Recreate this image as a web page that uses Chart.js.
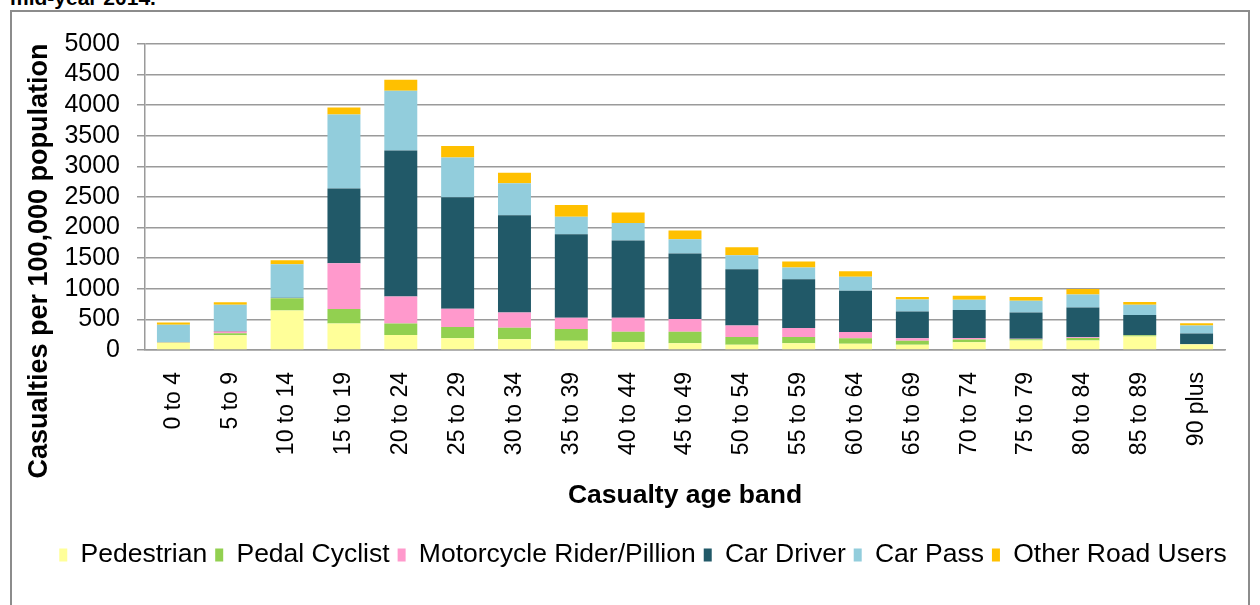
<!DOCTYPE html>
<html>
<head>
<meta charset="utf-8">
<script src="https://cdn.jsdelivr.net/npm/chart.js@4.4.1/dist/chart.umd.min.js"></script>
<style>
  body { margin: 0; background: #fff; width: 1260px; height: 605px; overflow: hidden; position: relative; font-family: "Liberation Sans", Arial, sans-serif; }
  #caption { position: absolute; left: 10px; top: -13px; font-weight: bold; font-size: 21px; line-height: 21px; color: #000; white-space: nowrap; }
  #frame { position: absolute; left: 10px; top: 10px; width: 1236px; height: 600px; border: 2px solid #8c8c8c; border-bottom: none; }
  #box { position: absolute; left: 12px; top: 12px; width: 1236px; height: 593px; }
</style>
</head>
<body>
<div id="caption">mid-year 2014.</div>
<div id="frame"></div>
<div id="box"><canvas id="grafico"></canvas></div>
<script>
// Faixas etárias e valores (vítimas por 100.000 habitantes)
const ageBands = ["0 to 4", "5 to 9", "10 to 14", "15 to 19", "20 to 24", "25 to 29", "30 to 34",
    "35 to 39", "40 to 44", "45 to 49", "50 to 54", "55 to 59", "60 to 64", "65 to 69",
    "70 to 74", "75 to 79", "80 to 84", "85 to 89", "90 plus"];
const pedestrian = [120, 240, 645, 435, 245, 190, 174, 152, 130, 109, 87, 109, 103, 87, 128, 155, 155, 220, 90];
const pedalCyclist = [3, 32, 200, 233, 190, 185, 190, 190, 169, 190, 125, 103, 87, 65, 42, 22, 43, 20, 5];
const motorcycle = [2, 32, 3, 750, 440, 299, 250, 185, 228, 206, 190, 147, 103, 38, 27, 8, 10, 5, 5];
const carDriver = [5, 5, 5, 1222, 2385, 1821, 1587, 1364, 1261, 1071, 919, 799, 674, 440, 455, 429, 488, 326, 171];
const carPass = [283, 430, 547, 1207, 978, 652, 522, 288, 288, 234, 228, 190, 229, 196, 169, 190, 212, 168, 128];
const otherRoadUsers = [38, 43, 65, 114, 179, 185, 174, 191, 169, 141, 130, 98, 92, 38, 65, 60, 87, 44, 37];

const fonte = '"Liberation Sans", Arial, sans-serif';
const corGrade = '#9a9a9a';

// título do eixo y desenhado à mão para ficar na mesma posição do original
const tituloY = {
    id: 'tituloY',
    afterDraw(chart) {
        const ctx = chart.ctx;
        ctx.save();
        ctx.translate(28, 249);
        ctx.rotate(-Math.PI / 2);
        ctx.font = 'bold 27px ' + fonte;
        ctx.fillStyle = '#000';
        ctx.textAlign = 'center';
        ctx.textBaseline = 'middle';
        ctx.fillText('Casualties per 100,000 population', 0, 0);
        ctx.restore();
    }
};

function serie(label, data, cor) {
    return { label: label, data: data, backgroundColor: cor, borderWidth: 0,
        categoryPercentage: 1, barPercentage: 0.58 };
}

const ctx = document.getElementById('grafico').getContext('2d');
new Chart(ctx, {
    type: 'bar',
    data: {
        labels: ageBands,
        datasets: [
            serie('Pedestrian', pedestrian, '#ffff99'),
            serie('Pedal Cyclist', pedalCyclist, '#92d050'),
            serie('Motorcycle Rider/Pillion', motorcycle, '#ff99cc'),
            serie('Car Driver', carDriver, '#215968'),
            serie('Car Pass', carPass, '#92cddc'),
            serie('Other Road Users', otherRoadUsers, '#ffc000')
        ]
    },
    options: {
        responsive: true,
        maintainAspectRatio: false,
        animation: false,
        layout: { padding: { top: 30, right: 0, left: 26, bottom: 26.75 } },
        plugins: {
            legend: {
                position: 'bottom',
                labels: {
                    color: '#000',
                    font: { family: fonte, size: 26.5 },
                    boxWidth: 8,
                    boxHeight: 13,
                    padding: 8
                }
            },
            tooltip: { enabled: false }
        },
        scales: {
            x: {
                stacked: true,
                grid: { display: false, drawTicks: false },
                border: { display: true, color: corGrade, width: 1.5 },
                ticks: {
                    color: '#000',
                    font: { family: fonte, size: 23 },
                    minRotation: 90,
                    maxRotation: 90,
                    autoSkip: false,
                    padding: 22
                },
                title: {
                    display: true,
                    text: 'Casualty age band',
                    color: '#000',
                    font: { family: fonte, size: 26.5, weight: 'bold' },
                    padding: { top: 0, bottom: 21.85 }
                },
                afterFit(scale) { scale.height = 183.75; }
            },
            y: {
                stacked: true,
                min: 0,
                max: 5000,
                grid: { color: corGrade, lineWidth: 1.5, tickLength: 8 },
                border: { display: true, color: corGrade, width: 1.5 },
                ticks: {
                    stepSize: 500,
                    autoSkip: false,
                    color: '#000',
                    font: { family: fonte, size: 25 },
                    padding: 17,
                    callback: (v) => String(v)
                },
                afterFit(scale) { scale.width = 107; }
            },
            // eixo vazio à direita só para reservar a margem
            margem: {
                position: 'right',
                grid: { display: false, drawTicks: false },
                border: { display: false },
                ticks: { display: false },
                afterFit(scale) { scale.width = 23; }
            }
        }
    },
    plugins: [tituloY]
});
</script>
</body>
</html>
